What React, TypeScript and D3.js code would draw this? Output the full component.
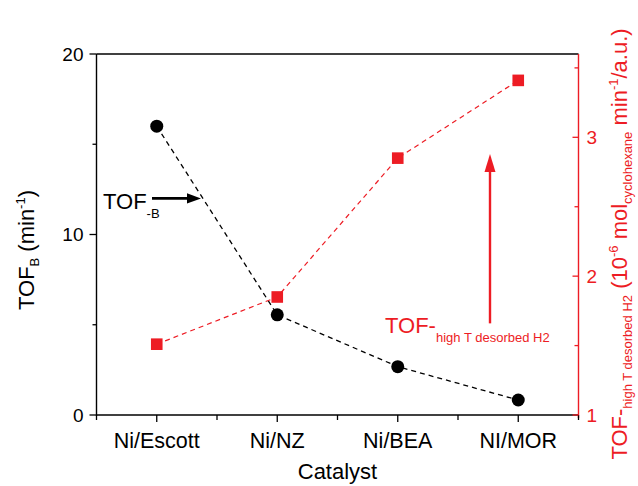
import React from "react";
import * as d3 from "d3";

const categories = ["Ni/Escott", "Ni/NZ", "Ni/BEA", "NI/MOR"];
const tofB = [16.0, 5.55, 2.68, 0.83];
const tofHighT = [1.51, 1.85, 2.85, 3.41];
const leftTicks = [0, 10, 20];
const leftMinor = [5, 15];
const rightTicks = [1, 2, 3];
const rightMinor = [1.5, 2.5, 3.5];

const RED = "#ed1c24";
const FONT = "'Liberation Sans', Arial, sans-serif";

export default function App() {
  const W = 638, H = 486;
  const left = 96.5, right = 578.5, top = 54, bottom = 415;
  const x = d3.scalePoint<string>().domain(categories).range([left, right]).padding(0.5);
  const yL = d3.scaleLinear().domain([0, 20]).range([bottom, top]);
  const yR = d3.scaleLinear().domain([1, 3.6]).range([bottom, top]);
  const step = x.step();
  const bounds = d3.range(categories.length + 1).map((i) => left + i * step);

  const lineB = d3.line<number>().x((_, i) => x(categories[i])!).y((d) => yL(d));
  const lineH = d3.line<number>().x((_, i) => x(categories[i])!).y((d) => yR(d));

  // annotation arrows
  const bY = yL(12);
  const bX0 = 152, bTip = 201, bLen = 14, bHalf = 5.2;
  const rX = 490, rY0 = yR(1.66), rTip = yR(2.88), rLen = 18, rHalf = 5.5;

  return (
    <svg width={W} height={H} style={{ position: "absolute", left: 0, top: 0, background: "#fff" }} fontFamily={FONT}>
      {/* frame */}
      <line x1={left} x2={right} y1={top} y2={top} stroke="#000" strokeWidth={1.4} />
      <line x1={left} x2={right} y1={bottom} y2={bottom} stroke="#000" strokeWidth={1.4} />
      <line x1={left} x2={left} y1={top} y2={bottom + 0.7} stroke="#000" strokeWidth={1.4} />
      <line x1={right} x2={right} y1={top} y2={bottom + 3} stroke={RED} strokeWidth={1.4} />

      {/* bottom ticks */}
      {categories.map((c) => (
        <g key={c}>
          <line x1={x(c)} x2={x(c)} y1={bottom} y2={bottom + 7} stroke="#000" strokeWidth={1.3} />
          <text x={x(c)} y={448} fontSize={21.5} textAnchor="middle" fill="#000">{c}</text>
        </g>
      ))}
      {bounds.map((b, i) => (
        <line key={i} x1={b} x2={b} y1={bottom} y2={bottom + 5} stroke="#000" strokeWidth={1.3} />
      ))}
      <text x={(left + right) / 2} y={479} fontSize={22} textAnchor="middle">Catalyst</text>

      {/* left ticks */}
      {leftTicks.map((t) => (
        <g key={t}>
          <line x1={left - 7} x2={left} y1={yL(t)} y2={yL(t)} stroke="#000" strokeWidth={1.3} />
          <text x={left - 13} y={yL(t) + 6.5} fontSize={19} textAnchor="end">{t}</text>
        </g>
      ))}
      {leftMinor.map((t) => (
        <line key={t} x1={left - 4} x2={left} y1={yL(t)} y2={yL(t)} stroke="#000" strokeWidth={1.3} />
      ))}
      <text transform="translate(34,250) rotate(-90)" fontSize={22} textAnchor="middle">
        <tspan>TOF</tspan>
        <tspan fontSize={13} dy={5}>B</tspan>
        <tspan dy={-5}> (min</tspan>
        <tspan fontSize={13} dy={-9}>-1</tspan>
        <tspan dy={9}>)</tspan>
      </text>

      {/* right ticks */}
      {rightTicks.map((t) => (
        <g key={t}>
          <line x1={right - 6} x2={right} y1={yR(t)} y2={yR(t)} stroke={RED} strokeWidth={1.3} />
          <text x={right + 8} y={yR(t) + 6.5} fontSize={19} fill={RED}>{t}</text>
        </g>
      ))}
      {rightMinor.map((t) => (
        <line key={t} x1={right - 4} x2={right} y1={yR(t)} y2={yR(t)} stroke={RED} strokeWidth={1.3} />
      ))}
      <text transform="translate(627,244) rotate(-90)" fontSize={22} textAnchor="middle" fill={RED}>
        <tspan>TOF-</tspan>
        <tspan fontSize={13} dy={5}>high T desorbed H2</tspan>
        <tspan dy={-5}> (10</tspan>
        <tspan fontSize={13} dy={-9}>-6</tspan>
        <tspan dy={9}> mol</tspan>
        <tspan fontSize={13} dy={5}>cyclohexane</tspan>
        <tspan dy={-5}> min</tspan>
        <tspan fontSize={13} dy={-9}>-1</tspan>
        <tspan dy={9}>/a.u.)</tspan>
      </text>

      {/* series */}
      <path d={lineB(tofB)!} fill="none" stroke="#000" strokeWidth={1.3} strokeDasharray="5,4" />
      <path d={lineH(tofHighT)!} fill="none" stroke={RED} strokeWidth={1.2} strokeDasharray="5,4" />
      {tofB.map((v, i) => (
        <circle key={i} cx={x(categories[i])} cy={yL(v)} r={6.5} fill="#000" />
      ))}
      {tofHighT.map((v, i) => (
        <rect key={i} x={x(categories[i])! - 5.8} y={yR(v) - 5.8} width={11.6} height={11.6} fill={RED} />
      ))}

      {/* annotations */}
      <text x={103} y={209} fontSize={22}>
        <tspan>TOF</tspan>
        <tspan fontSize={13} dy={9}>-B</tspan>
      </text>
      <line x1={bX0} x2={bTip - bLen + 1} y1={bY} y2={bY} stroke="#000" strokeWidth={2.6} />
      <path d={`M${bTip},${bY} L${bTip - bLen},${bY - bHalf} L${bTip - bLen},${bY + bHalf} Z`} fill="#000" />

      <line x1={rX} x2={rX} y1={rY0} y2={rTip + rLen - 1} stroke={RED} strokeWidth={2.4} />
      <path d={`M${rX},${rTip} L${rX - rHalf},${rTip + rLen} L${rX + rHalf},${rTip + rLen} Z`} fill={RED} />
      <text x={385} y={333} fontSize={22} fill={RED}>
        <tspan>TOF-</tspan>
        <tspan fontSize={13} dy={9}>high T desorbed H2</tspan>
      </text>
    </svg>
  );
}
